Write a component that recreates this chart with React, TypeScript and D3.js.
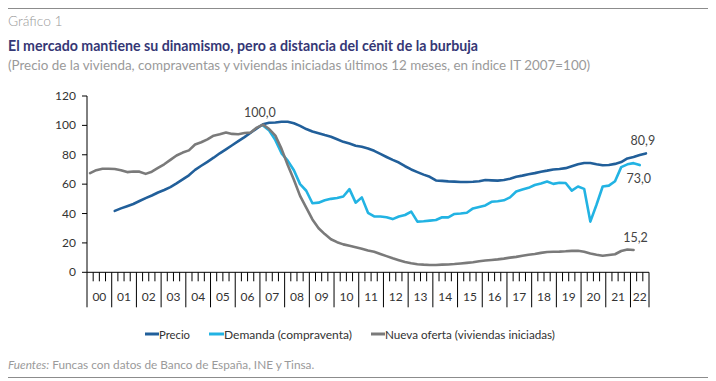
import React from "react";
import * as d3 from "d3";

const START_GRAY = 2000;
const START_PRECIO = 2001;
const START_DEMANDA = 2007;

const nuevaOferta = [
  67.5, 69.5, 70.5, 70.5,
  70.3, 69.5, 68.2, 68.6,
  68.5, 67.0, 68.5, 71.0,
  73.5, 76.5, 79.5, 81.5,
  83.0, 87.0, 88.5, 90.5,
  93.0, 94.0, 95.2, 94.2,
  94.0, 94.8, 95.2, 98.5,
  100.5, 97.5, 93.0, 84.0,
  73.0, 63.0, 52.0, 44.0,
  36.0, 30.0, 26.0, 22.5,
  20.5, 19.0, 18.0, 17.0,
  16.0, 14.8, 14.0, 12.5,
  11.0, 9.5, 8.2, 7.0,
  6.2, 5.5, 5.2, 5.0,
  5.0, 5.2, 5.3, 5.6,
  6.0, 6.4, 6.8, 7.5,
  8.0, 8.4, 8.8, 9.3,
  10.0, 10.5, 11.3, 12.0,
  12.5, 13.2, 13.8, 14.0,
  14.1, 14.3, 14.6, 14.7,
  14.0, 12.8, 12.0, 11.3,
  11.8, 12.3, 14.5, 15.5,
  15.2,
];

const precio = [
  41.8, 43.5, 45.0, 46.5,
  48.5, 50.5, 52.3, 54.3,
  56.0, 58.0, 60.5, 63.2,
  66.0, 69.7, 72.5, 75.2,
  78.0, 81.0, 83.7, 86.5,
  89.3, 92.0, 95.0, 98.0,
  100.8, 101.8, 102.0, 102.5,
  102.5, 101.5, 99.7, 97.5,
  95.8, 94.6, 93.4, 92.3,
  90.6, 88.8, 87.6, 86.2,
  85.4, 84.3, 82.7, 80.6,
  78.5, 76.5, 74.7, 72.2,
  70.0, 68.2, 66.5, 65.0,
  62.5, 62.2, 61.9, 61.7,
  61.5, 61.5, 61.6, 62.0,
  62.8, 62.6, 62.4, 62.8,
  63.7, 65.0, 65.8, 66.8,
  67.5, 68.5, 69.2, 70.0,
  70.3, 70.9, 72.2, 73.5,
  74.4, 74.4, 73.6, 72.9,
  73.0, 73.8, 75.0, 77.5,
  78.5, 79.8, 80.9,
];

const demanda = [
  100.0, 96.5, 90.0, 81.0,
  76.0, 69.5, 60.0, 55.5,
  47.0, 47.4, 49.0, 50.0,
  50.6, 51.6, 56.6, 47.4,
  51.0, 40.5, 38.0, 38.0,
  37.5, 36.2, 38.0, 39.0,
  41.3, 34.5, 34.8, 35.2,
  35.6, 37.5, 37.4, 39.7,
  40.0, 40.5, 43.5, 44.5,
  45.5, 48.0, 48.4, 49.0,
  51.0, 55.0, 56.3, 57.5,
  59.4, 60.5, 61.8, 60.2,
  61.0, 60.8, 55.6, 58.4,
  56.8, 34.5, 46.0, 58.4,
  59.0, 62.0, 71.6, 73.5,
  74.3, 73.0,
];

const yTicks = [0, 20, 40, 60, 80, 100, 120];
const yearLabels = ["00","01","02","03","04","05","06","07","08","09","10","11","12","13","14","15","16","17","18","19","20","21","22"];

const seriesNames = ["Precio", "Demanda (compraventa)", "Nueva oferta (viviendas iniciadas)"];
const colors = ["#215f9a", "#22b3e3", "#7a7a7a"];

const annotations = [
  { text: "100,0", year: 2007.0, value: 100.0 },
  { text: "80,9", year: 2022.625, value: 80.9 },
  { text: "73,0", year: 2022.375, value: 73.0 },
  { text: "15,2", year: 2022.125, value: 15.2 },
];

const FONT = "Lato, 'Open Sans', sans-serif";

export default function App() {
  const width = 716;
  const height = 381;
  const x = d3.scaleLinear().domain([2000, 2022.75]).range([87, 649]);
  const y = d3.scaleLinear().domain([0, 120]).range([272.3, 96]);

  const toPts = (arr: number[], start: number) =>
    arr.map((v, i) => [start + 0.125 + i * 0.25, v] as [number, number]);

  const line = d3
    .line<[number, number]>()
    .x((d) => x(d[0]))
    .y((d) => y(d[1]))
    .curve(d3.curveLinear);

  const series = [
    { data: toPts(precio, START_PRECIO), color: colors[0] },
    { data: toPts(demanda, START_DEMANDA), color: colors[1] },
    { data: toPts(nuevaOferta, START_GRAY), color: colors[2] },
  ];

  const quarterTicks: number[] = [];
  for (let t = 2000; t <= 2022.75 + 1e-6; t += 0.25) quarterTicks.push(t);

  const y0 = y(0);

  const annPos = [
    { dx: 0, dy: -8, anchor: "middle" },
    { dx: -3, dy: -8, anchor: "middle" },
    { dx: -1, dy: 18, anchor: "middle" },
    { dx: 2, dy: -8, anchor: "middle" },
  ];

  const legendItems = [
    { lx: 145, tx: 159, w: 31 },
    { lx: 209, tx: 224, w: 128 },
    { lx: 371, tx: 385, w: 170 },
  ];

  return (
    <svg
      width={width}
      height={height}
      style={{ position: "absolute", left: 0, top: 0, background: "#fff" }}
    >
      <rect x={0} y={0} width={width} height={height} fill="#fff" />
      <line x1={8} x2={708} y1={8.5} y2={8.5} stroke="#8c8c8c" strokeWidth={1} />
      <text x={8} y={26} fontFamily={FONT} fontSize={13.8} fontWeight={300} fill="#9a9a9a">
        Gráfico 1
      </text>
      <text
        x={8}
        y={51}
        fontFamily={FONT}
        fontSize={15}
        fontWeight={700}
        fill="#353775"
        textLength={470}
        lengthAdjust="spacingAndGlyphs"
      >
        El mercado mantiene su dinamismo, pero a distancia del cénit de la burbuja
      </text>
      <text
        x={8}
        y={70}
        fontFamily={FONT}
        fontSize={13}
        fill="#9a9a9a"
        textLength={582}
        lengthAdjust="spacingAndGlyphs"
      >
        (Precio de la vivienda, compraventas y viviendas iniciadas últimos 12 meses, en índice IT 2007=100)
      </text>

      {/* y axis */}
      <line x1={x(2000)} x2={x(2000)} y1={y(120)} y2={y0} stroke="#000" strokeWidth={1} />
      {yTicks.map((t) => (
        <g key={"yt" + t}>
          <line x1={x(2000) - 5} x2={x(2000)} y1={y(t)} y2={y(t)} stroke="#000" strokeWidth={1} />
          <text
            x={76}
            y={y(t) + 4}
            textAnchor="end"
            fontFamily={FONT}
            fontSize={12}
            fill="#333"
          >
            {t}
          </text>
        </g>
      ))}

      {/* x axis */}
      <line x1={x(2000)} x2={x(2022.75)} y1={y0} y2={y0} stroke="#000" strokeWidth={1} />
      {quarterTicks.map((t, i) => {
        const isYear = Math.abs(t - Math.round(t)) < 1e-6 || i === quarterTicks.length - 1;
        return (
          <line
            key={"xt" + i}
            x1={x(t)}
            x2={x(t)}
            y1={y0}
            y2={y0 + (isYear ? 35 : 9)}
            stroke="#000"
            strokeWidth={1}
          />
        );
      })}
      {yearLabels.map((lab, i) => {
        const s = 2000 + i;
        const e = Math.min(s + 1, 2022.75);
        return (
          <text
            key={"xl" + lab}
            x={(x(s) + x(e)) / 2}
            y={y0 + 29}
            textAnchor="middle"
            fontFamily={FONT}
            fontSize={12}
            fill="#333"
          >
            {lab}
          </text>
        );
      })}

      {/* series */}
      {series.map((s, i) => (
        <path
          key={"s" + i}
          d={line(s.data) || ""}
          fill="none"
          stroke={s.color}
          strokeWidth={2.6}
          strokeLinejoin="round"
          strokeLinecap="round"
        />
      ))}

      {annotations.map((a, i) => (
        <text
          key={"a" + i}
          x={x(a.year) + annPos[i].dx}
          y={y(a.value) + annPos[i].dy}
          textAnchor={annPos[i].anchor as any}
          fontFamily={FONT}
          fontSize={12.5}
          fill="#444"
        >
          {a.text}
        </text>
      ))}

      {/* legend */}
      {seriesNames.map((n, i) => (
        <g key={"lg" + i}>
          <line
            x1={legendItems[i].lx}
            x2={legendItems[i].tx}
            y1={334}
            y2={334}
            stroke={colors[i]}
            strokeWidth={3}
          />
          <text
            x={legendItems[i].tx}
            y={338.5}
            fontFamily={FONT}
            fontSize={12}
            fill="#333"
            textLength={legendItems[i].w}
            lengthAdjust="spacingAndGlyphs"
          >
            {n}
          </text>
        </g>
      ))}

      <text x={8} y={369} fontFamily={FONT} fontSize={11.8} fill="#9a9a9a">
        <tspan fontStyle="italic">Fuentes:</tspan>
        <tspan> Funcas con datos de Banco de España, INE y Tinsa.</tspan>
      </text>
      <line x1={8} x2={708} y1={377.5} y2={377.5} stroke="#8c8c8c" strokeWidth={1} />
    </svg>
  );
}
